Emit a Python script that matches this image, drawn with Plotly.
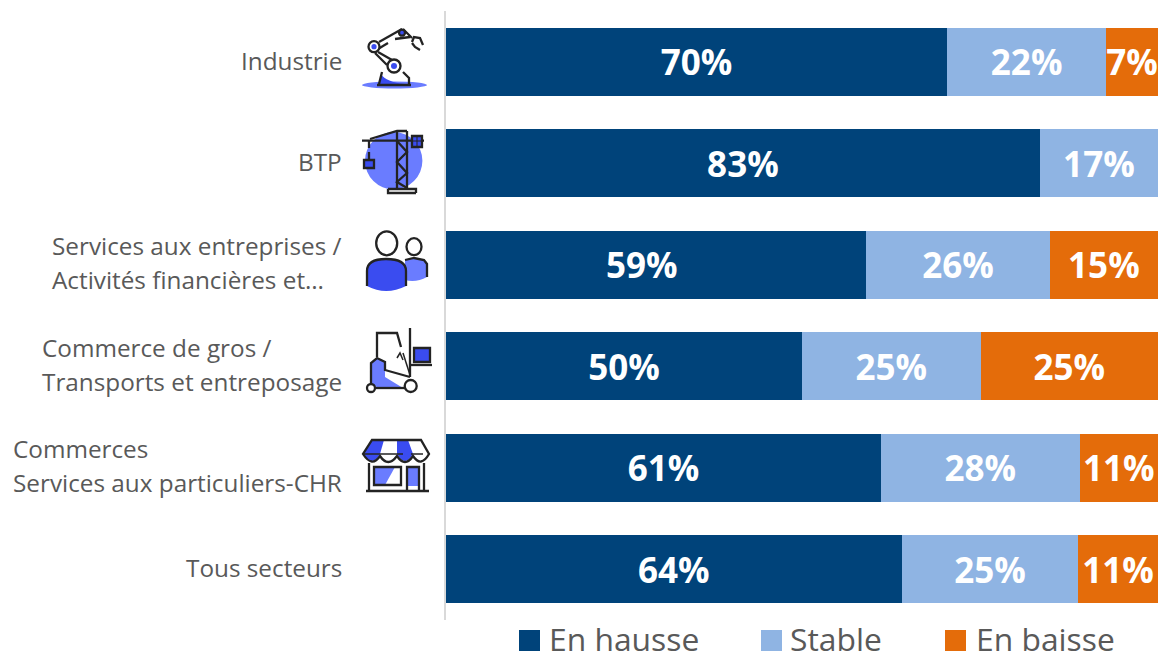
import plotly.graph_objects as go

# Values
categories = ["Industrie", "BTP", "Services aux entreprises /<br>Activités financières et…",
              "Commerce de gros /<br>Transports et entreposage",
              "Commerces<br>Services aux particuliers-CHR", "Tous secteurs"]
hausse = [70.4, 83.4, 59.0, 50.0, 61.1, 64.0]
stable = [22.3, 16.6, 25.8, 25.1, 27.9, 24.8]
baisse = [7.3, 0, 15.2, 24.9, 11.0, 11.2]
hausse_labels = ["70%", "83%", "59%", "50%", "61%", "64%"]
stable_labels = ["22%", "17%", "26%", "25%", "28%", "25%"]
baisse_labels = ["7%", "", "15%", "25%", "11%", "11%"]
series_names = ["En hausse", "Stable", "En baisse"]
series_colors = ["#00437a", "#8fb4e3", "#e46c0a"]

W, H = 1158, 654
INK = "#232323"
BLUE = "#3a4cf0"
LIGHT = "#6a7cff"
TEXT = "#595959"
VALUE_FONT = dict(family="Open Sans", size=35, color="white", weight="bold")

fig = go.Figure()
for name, vals, labels, color in zip(series_names, [hausse, stable, baisse],
                                     [hausse_labels, stable_labels, baisse_labels], series_colors):
    # the 59% label sits left of its bar's centre in the original, so it is placed separately below
    shown = ["" if lab == "59%" else lab for lab in labels]
    fig.add_trace(go.Bar(
        y=categories, x=vals, name=name, orientation="h", marker=dict(color=color, line=dict(width=0)),
        text=shown, textposition="inside", insidetextanchor="middle", textangle=0,
        constraintext="none", cliponaxis=False, showlegend=False, hoverinfo="skip",
        textfont=VALUE_FONT,
    ))
# empty trace so the full-canvas pixel axes exist for the icons
fig.add_trace(go.Scatter(x=[None], y=[None], xaxis="x2", yaxis="y2", showlegend=False))

shapes = []


def path(d, fill=None, line=INK, width=2.3):
    shapes.append(dict(type="path", path=d, xref="x2", yref="y2", fillcolor=fill or "rgba(0,0,0,0)",
                       line=dict(color=line, width=width)))


def poly(points, fill=None, line=INK, width=2.3, close=False):
    d = "M" + " L".join(f"{x},{y}" for x, y in points) + (" Z" if close else "")
    path(d, fill, line, width)


def ellipse(cx, cy, rx, ry, fill=None, line=INK, width=2.3):
    shapes.append(dict(type="circle", xref="x2", yref="y2", x0=cx - rx, x1=cx + rx, y0=cy - ry, y1=cy + ry,
                       fillcolor=fill or "rgba(0,0,0,0)", line=dict(color=line, width=width)))


# robot arm
ellipse(394.5, 85, 32.5, 3.5, LIGHT, LIGHT, 0)
path("M379,84 L381,74 Q386,82 405,84 Z", BLUE, BLUE, 0)
poly([(379, 84), (382, 72)])
poly([(403, 72), (409, 78), (409, 84)])
poly([(377, 85), (411, 85)], width=2.5)
poly([(379, 42), (402, 29)])
poly([(378, 49), (388, 43)])
poly([(378, 52), (392, 60)])
poly([(375, 53), (387, 65)])
poly([(403, 29), (412, 38)])
poly([(395, 39), (410, 37)])
poly([(412, 42), (414, 37), (420, 38), (423, 45)])
poly([(412, 43), (415, 47), (420, 50)])
ellipse(394, 66, 6.5, 6.5, "white")
ellipse(394, 66, 3, 3, BLUE, BLUE, 0)
ellipse(374, 46.7, 5.5, 5.5, "white")
ellipse(374, 46.7, 2.6, 2.6, BLUE, BLUE, 0)
ellipse(402, 32.7, 3, 3, BLUE)

# crane
ellipse(393.7, 160.7, 28.7, 28.7, LIGHT, LIGHT, 0)
poly([(362, 140.7), (424, 140.7)])
poly([(370, 139), (397, 131), (407, 131)])
poly([(397, 131), (397, 190)])
poly([(407, 131), (407, 190)])
poly([(397, 141), (407, 152), (397, 162), (407, 173), (397, 182), (407, 188)])
poly([(388, 189), (416, 189), (416, 193)])
poly([(388, 189), (388, 193), (416, 193)])
poly([(369, 141), (369, 148)])
poly([(369, 152), (369, 160)])
poly([(364, 160), (374, 160), (374, 168), (364, 168)], BLUE, close=True)
poly([(412, 136), (422, 136), (422, 147), (412, 147)], BLUE, close=True)
poly([(417, 136), (417, 147)], width=1)
poly([(412, 141), (422, 141)], width=1)

# people
path("M405,260 Q414,256 427,262 V277 Q416,283 405,280 Z", LIGHT, LIGHT, 0)
poly([(405, 260), (414, 258), (424, 260), (427, 264), (427, 277)])
path("M367,286 V271 Q367,259 386,259 Q406,259 406,271 V286 Q386,296 367,286 Z", BLUE, BLUE, 0)
path("M367,286 V271 Q367,259 386,259 Q406,259 406,271 V286")
ellipse(386.7, 243.3, 10.5, 12)
ellipse(414, 246.7, 7.5, 8.5)

# forklift
path("M371,383 V363 Q377,355 385,362 V377 L403,388 H378 Z", LIGHT, LIGHT, 0)
poly([(371, 383), (371, 363), (377, 358), (385, 362), (385, 370), (410, 377)])
poly([(377, 357), (377, 333), (397, 333), (401, 347)])
poly([(410, 328), (410, 377)])
poly([(410, 365), (432, 365)])
poly([(414, 348), (430, 348), (430, 362), (414, 362)], BLUE, close=True)
poly([(397, 358), (400, 353), (403, 360)], width=1.5)
poly([(403, 353), (410, 375)], width=1.5)
poly([(376, 388), (405, 388)])
ellipse(371, 388, 4, 4, "white")
ellipse(410.7, 386, 6, 6, "white")

# shop front
path("M372,440 H384 L380,454 Q372,468 363,454 Z", BLUE, BLUE, 0)
path("M397,440 H408 L413,454 Q405,468 397,454 Z", BLUE, BLUE, 0)
path("M372,440 H421 L429,454 Q421,468 413,456 Q405,468 397,456 Q388,468 380,456 Q372,468 363,454 Z")
poly([(363, 454), (403, 454)], width=1.5)
poly([(411, 454), (423, 454)], width=1.5)
poly([(369, 463), (369, 491)])
poly([(424, 463), (424, 491)])
poly([(366, 491), (429, 491)], width=2.5)
poly([(374, 467), (395, 467), (385, 485), (374, 485)], LIGHT, LIGHT, 0, close=True)
poly([(374, 467), (401, 467), (401, 485), (374, 485)], close=True)
poly([(407, 467), (419, 467), (419, 486), (407, 486)], LIGHT, LIGHT, 0, close=True)
poly([(407, 491), (407, 467), (419, 467), (419, 491)])

annotations = []
# category labels: one-liners hang off x=344, two-liners start at their own left edge
row_y = [60, 161, 262.5, 364, 465, 567]
left_edge = [None, None, 50, 40, 11, None]
for cat, y, left in zip(categories, row_y, left_edge):
    lines = cat.split("<br>")
    for i, txt in enumerate(lines):
        annotations.append(dict(xref="x2", yref="y2", x=left if left else 344, y=y + 34 * (i - (len(lines) - 1) / 2),
                                text=txt, showarrow=False, xanchor="left" if left else "right", yanchor="middle",
                                font=dict(family="Open Sans", size=24.3, color=TEXT)))

# off-centre value label of the third row, in data coordinates
annotations.append(dict(xref="x", yref="y", x=27.5, y=categories[2], text=hausse_labels[2], showarrow=False,
                        font=VALUE_FONT))

# legend
legend_swatch = [519, 761, 945]
legend_text = [547, 788, 974]
for name, color, sx, tx in zip(series_names, series_colors, legend_swatch, legend_text):
    shapes.append(dict(type="rect", xref="x2", yref="y2", x0=sx, x1=sx + 21, y0=630, y1=651,
                       fillcolor=color, line=dict(width=0)))
    annotations.append(dict(xref="x2", yref="y2", x=tx, y=638, text=name, showarrow=False, xanchor="left",
                            yanchor="middle", height=30, valign="middle",
                            font=dict(family="Open Sans", size=31.8, color=TEXT)))

fig.update_layout(
    width=W, height=H, barmode="stack", bargap=0.33, margin=dict(l=0, r=0, t=0, b=0),
    paper_bgcolor="white", plot_bgcolor="rgba(0,0,0,0)", shapes=shapes, annotations=annotations,
    xaxis=dict(domain=[446 / W, 1], range=[0, 100], visible=False),
    yaxis=dict(domain=[1 - 620 / H, 1 - 11 / H], anchor="x", autorange="reversed", showticklabels=False,
               ticks="", showgrid=False, zeroline=False, showline=True, linecolor="#d9d9d9", linewidth=2),
    xaxis2=dict(domain=[0, 1], range=[0, W], visible=False, anchor="y2", fixedrange=True),
    yaxis2=dict(domain=[0, 1], range=[H, 0], visible=False, anchor="x2", fixedrange=True),
)

fig.write_html("out.html", config=dict(displayModeBar=False),
               post_script="document.body.style.margin='0';document.body.style.overflow='hidden';")
